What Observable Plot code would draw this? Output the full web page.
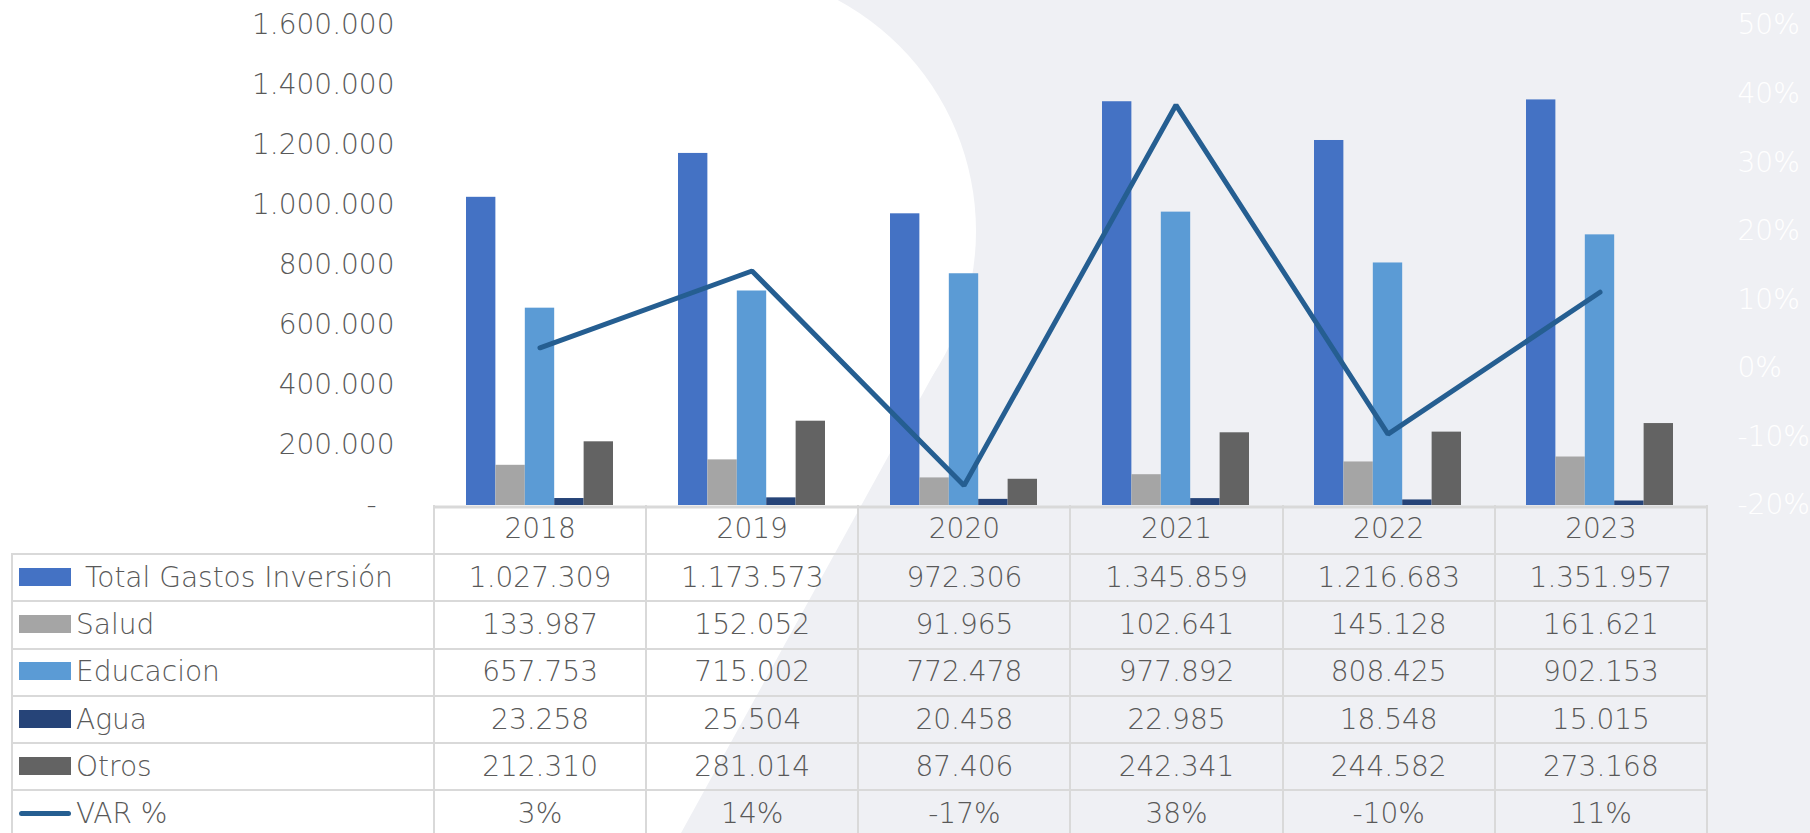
<!DOCTYPE html>
<html>
<head>
<meta charset="utf-8">
<script src="https://cdn.jsdelivr.net/npm/d3@7"></script>
<script src="https://cdn.jsdelivr.net/npm/@observablehq/plot@0.6"></script>
<style>
  html, body { margin: 0; padding: 0; }
  body { width: 1810px; height: 833px; overflow: hidden; position: relative; font-family: "DejaVu Sans", sans-serif; font-weight: 200; }
  #bg { position: absolute; left: 0; top: 0; width: 1810px; height: 833px; background: #eff0f4; }
  #bgc { position: absolute; left: 452px; top: -31px; width: 524px; height: 524px; border-radius: 50%; background: #ffffff; }
  #bgp { position: absolute; left: 0; top: 0; width: 1810px; height: 833px; background: #ffffff;
         clip-path: polygon(0 0, 714px 0, 714px 231px, 955px 335px, 681px 833px, 0 833px); }
  #chart { position: absolute; left: 0; top: 0; }
  #chart svg { overflow: visible; }
  #tbl { position: absolute; left: 11px; top: 505px; border-collapse: collapse; table-layout: fixed;
         font-size: 28px; color: #595959; }
  #tbl td, #tbl th { padding: 0; border: 2px solid #d9d9d9; text-align: center; font-weight: 200;
         white-space: pre; line-height: 1; vertical-align: middle; }
  #tbl th { border-top: none; }
  #tbl th.blank { border: none; }
  #tbl tr.head { height: 49px; }
  #tbl tr.row { height: 47.3px; }
  #tbl td.lab { text-align: left; }
  .sw { display: inline-block; width: 52px; height: 18px; margin-left: 6px; margin-right: 5px; vertical-align: middle; position: relative; top: -2px; }
  .swl { display: inline-block; width: 52px; height: 5px; border-radius: 3px; margin-left: 6px; margin-right: 5px; vertical-align: middle; position: relative; top: -2px; }
</style>
</head>
<body>
<div id="bg"></div>
<div id="bgc"></div>
<div id="bgp"></div>
<div id="chart"></div>
<table id="tbl"></table>
<script>
// ---- data ----
const years = ["2018", "2019", "2020", "2021", "2022", "2023"];
const seriesNames = ["Total Gastos Inversión", "Salud", "Educacion", "Agua", "Otros"];
const total = [1027309, 1173573, 972306, 1345859, 1216683, 1351957];
const salud = [133987, 152052, 91965, 102641, 145128, 161621];
const educacion = [657753, 715002, 772478, 977892, 808425, 902153];
const agua = [23258, 25504, 20458, 22985, 18548, 15015];
const otros = [212310, 281014, 87406, 242341, 244582, 273168];
const varPct = [0.030, 0.142, -0.171, 0.384, -0.096, 0.111];
const varName = "VAR %";
const leftTicks = [0, 200000, 400000, 600000, 800000, 1000000, 1200000, 1400000, 1600000];
const rightTicks = [-0.2, -0.1, 0, 0.1, 0.2, 0.3, 0.4, 0.5];

const seriesValues = [total, salud, educacion, agua, otros];
const colors = ["#4472c4", "#a5a5a5", "#5b9bd5", "#264478", "#636363"];
const lineColor = "#255e91";

// ---- formats ----
const loc = d3.formatLocale({decimal: ",", thousands: ".", grouping: [3], currency: ["", ""], minus: "-", percent: "%"});
const fmtInt = loc.format(",d");
const fmtPct = loc.format(".0%");

// ---- layout ----
const W = 1810, H = 507;
const mL = 433, mR = 104, mT = 25, mB = 2;
const pInner = 0.307, pOuter = 0.1535;
const step = (W - mL - mR) / (years.length - pInner + 2 * pOuter);
const bw = step * (1 - pInner);
const sub = bw / seriesNames.length;

// secondary axis mapped onto the primary scale
const yMax = leftTicks[leftTicks.length - 1];
const pMin = rightTicks[0], pMax = rightTicks[rightTicks.length - 1];
const toLeft = p => (p - pMin) / (pMax - pMin) * yMax;
const fromLeft = v => v / yMax * (pMax - pMin) + pMin;

const barMarks = seriesNames.map((name, k) =>
  Plot.barY(years.map((yr, i) => ({year: yr, series: name, value: seriesValues[k][i]})), {
    x: "year", y: "value", fill: colors[k],
    insetLeft: k * sub, insetRight: (seriesNames.length - 1 - k) * sub
  })
);

const lineData = years.map((yr, i) => ({year: yr, v: varPct[i]}));

const chart = Plot.plot({
  width: W, height: H,
  marginLeft: mL, marginRight: mR, marginTop: mT, marginBottom: mB,
  style: {background: "transparent", fontFamily: "DejaVu Sans, sans-serif", fontSize: "28px", fontWeight: 200, color: "#595959", overflow: "visible"},
  x: {type: "band", domain: years, paddingInner: pInner, paddingOuter: pOuter, axis: null},
  y: {domain: [0, yMax], axis: null},
  marks: [
    ...barMarks,
    Plot.ruleY([0], {stroke: "#d9d9d9", strokeWidth: 3, dy: 1.5}),
    Plot.axisY(leftTicks, {anchor: "left", tickSize: 0, tickPadding: 39, label: null,
      tickFormat: d => d === 0 ? "-\u00a0\u00a0" : fmtInt(d), fill: "#595959", fontSize: 28}),
    Plot.axisY(rightTicks.map(toLeft), {anchor: "right", tickSize: 0, tickPadding: 31, label: null,
      tickFormat: d => fmtPct(Math.round(fromLeft(d) * 100) / 100), fill: "#ffffff", fontSize: 28}),
    Plot.line(lineData, {x: "year", y: d => toLeft(d.v), stroke: lineColor, strokeWidth: 5,
      strokeLinejoin: "miter", strokeLinecap: "round"})
  ]
});
document.getElementById("chart").appendChild(chart);

// ---- data table ----
const tbl = document.getElementById("tbl");
const colW = 422;
let html = `<colgroup><col style="width:${colW}px">` + years.map(() => `<col style="width:${step.toFixed(2)}px">`).join("") + `</colgroup>`;
html += `<tr class="head"><th class="blank"></th>` + years.map(y => `<th>${y}</th>`).join("") + `</tr>`;
seriesNames.forEach((name, k) => {
  const label = k === 0 ? " " + name : name;
  html += `<tr class="row"><td class="lab"><span class="sw" style="background:${colors[k]}"></span>${label}</td>` +
    seriesValues[k].map(v => `<td>${fmtInt(v)}</td>`).join("") + `</tr>`;
});
html += `<tr class="row"><td class="lab"><span class="swl" style="background:${lineColor}"></span>${varName}</td>` +
  varPct.map(v => `<td>${fmtPct(v)}</td>`).join("") + `</tr>`;
tbl.innerHTML = html;
</script>
</body>
</html>
